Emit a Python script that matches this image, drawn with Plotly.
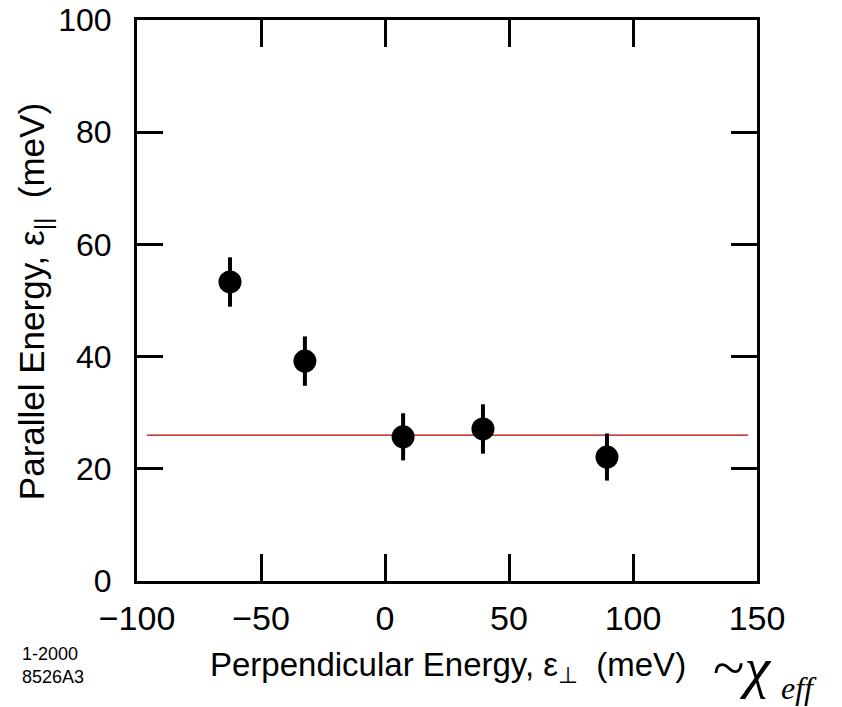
import plotly.graph_objects as go

# Measured points: perpendicular energy (meV) vs parallel energy (meV)
perp_energy = [-62.5, -32.3, 7.3, 39.5, 89.5]
par_energy = [53.3, 39.2, 25.7, 27.1, 22.1]
par_error = [4.4, 4.4, 4.2, 4.4, 4.2]

# Mean level of parallel energy
mean_x = [-96, 146.4]
mean_y = [26.0, 26.0]

x_ticks = [-100, -50, 0, 50, 100, 150]
y_ticks = [0, 20, 40, 60, 80, 100]

fig = go.Figure()

fig.add_trace(go.Scatter(
    x=mean_x, y=mean_y, mode="lines",
    line=dict(color="#b80000", width=1.2),
    showlegend=False, hoverinfo="skip",
))

fig.add_trace(go.Scatter(
    x=perp_energy, y=par_energy, mode="markers",
    marker=dict(color="black", size=23, line=dict(width=0)),
    error_y=dict(type="data", array=par_error, visible=True,
                 color="black", thickness=4, width=0),
    showlegend=False,
))

axis_font = "Liberation Sans, Arial, sans-serif"
serif_font = "Liberation Serif, Times New Roman, serif"

fig.update_layout(
    template="none",
    width=842, height=707,
    margin=dict(l=137, r=85, t=20, b=126, autoexpand=False),
    paper_bgcolor="white", plot_bgcolor="white",
    xaxis=dict(
        range=[-100, 150], tickvals=x_ticks, automargin=False,
        showgrid=False, zeroline=False,
        showline=True, linecolor="black", linewidth=3, mirror="ticks",
        ticks="inside", ticklen=27, tickwidth=3, tickcolor="black",
        tickfont=dict(family=axis_font, size=34, color="black"),
        ticklabelstandoff=5,
    ),
    yaxis=dict(
        range=[0, 100], tickvals=y_ticks, automargin=False,
        showgrid=False, zeroline=False,
        showline=True, linecolor="black", linewidth=3, mirror="ticks",
        ticks="inside", ticklen=26, tickwidth=3, tickcolor="black",
        tickfont=dict(family=axis_font, size=32, color="black"),
        ticklabelstandoff=16,
    ),
    annotations=[
        dict(text="Parallel Energy, ε<sub>||</sub>  (meV)",
             xref="paper", yref="paper", x=0, y=0.497,
             xshift=-103, textangle=-90, showarrow=False,
             xanchor="center", yanchor="middle",
             font=dict(family=axis_font, size=35, color="black")),
        dict(text="Perpendicular Energy, ε<sub>⊥</sub>  (meV)",
             xref="paper", yref="paper", x=0.502, y=-0.153,
             showarrow=False, xanchor="center", yanchor="middle",
             font=dict(family=axis_font, size=33, color="black")),
        dict(text="1-2000<br>8526A3",
             xref="paper", yref="paper", x=0, y=-0.15,
             xshift=-117, showarrow=False, xanchor="left", yanchor="middle",
             align="left",
             font=dict(family=axis_font, size=18, color="black")),
        dict(text="~<i>χ</i>",
             xref="paper", yref="paper", x=1, y=-0.155,
             xshift=-46, showarrow=False, xanchor="left", yanchor="middle",
             font=dict(family=serif_font, size=58, color="black")),
        dict(text="<i>eff</i>",
             xref="paper", yref="paper", x=1, y=-0.19,
             xshift=22, showarrow=False, xanchor="left", yanchor="middle",
             font=dict(family=serif_font, size=32, color="black")),
    ],
)

fig.write_html("out.html")
